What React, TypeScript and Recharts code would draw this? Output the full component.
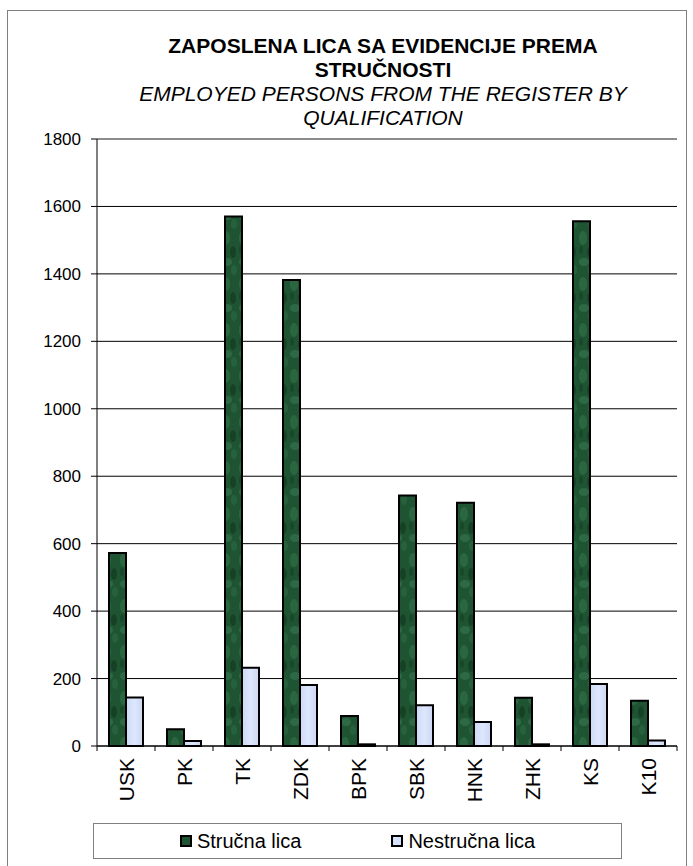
import { BarChart, Bar, XAxis, YAxis, CartesianGrid, ReferenceLine } from "recharts";

const categories = ["USK", "PK", "TK", "ZDK", "BPK", "SBK", "HNK", "ZHK", "KS", "K10"];
const strucna = [572, 50, 1570, 1382, 89, 743, 721, 143, 1556, 134];
const nestrucna = [144, 15, 232, 181, 5, 121, 71, 5, 184, 16];
const yTicks = [0, 200, 400, 600, 800, 1000, 1200, 1400, 1600, 1800];

const data = categories.map((name, i) => ({ name, strucna: strucna[i], nestrucna: nestrucna[i] }));

const FONT = '"Liberation Sans", Arial, sans-serif';
const W = 693;
const H = 866;
const X_H = 30;
const M = { top: 139, right: 16, bottom: 120 - X_H, left: 0 };
const Y_W = 97;
const PLOT_W = W - M.left - M.right - Y_W;
const HALF_BAND = PLOT_W / categories.length / 2;

const XTick = ({ x, y, payload, index }: any) => (
  <g>
    {index === 0 && <line x1={x - HALF_BAND} x2={x - HALF_BAND} y1={y - 8} y2={y - 3} stroke="#000" />}
    <line x1={x + HALF_BAND} x2={x + HALF_BAND} y1={y - 8} y2={y - 3} stroke="#000" />
    <text
      x={x}
      y={y + 4}
      transform={`rotate(-90, ${x}, ${y + 4})`}
      textAnchor="end"
      dy="0.36em"
      fontSize={21}
      fill="#000"
      fontFamily={FONT}
    >
      {payload.value}
    </text>
  </g>
);

const Swatch = ({ fill }: { fill: string }) => (
  <span style={{ display: "inline-block", width: 8, height: 8, border: "2px solid #000", background: fill, marginRight: 5 }} />
);

export default function App() {
  return (
    <div style={{ position: "absolute", left: 0, top: 0, width: W, height: H, overflow: "hidden", fontFamily: FONT, background: "#fff" }}>
      <div style={{ position: "absolute", left: 7, top: 10, width: 678, height: 900, border: "1px solid #808080" }} />
      <div style={{ position: "absolute", left: 83, top: 34, width: 600, textAlign: "center", fontSize: 21, lineHeight: "24px", color: "#000" }}>
        <div style={{ fontWeight: "bold" }}>ZAPOSLENA LICA SA EVIDENCIJE PREMA</div>
        <div style={{ fontWeight: "bold" }}>STRUČNOSTI</div>
        <div style={{ fontStyle: "italic" }}>EMPLOYED PERSONS FROM THE REGISTER BY</div>
        <div style={{ fontStyle: "italic" }}>QUALIFICATION</div>
      </div>
      <div style={{ position: "absolute", left: 0, top: 0 }}>
        <BarChart width={W} height={H} data={data} margin={M} barSize={17} barGap={0}>
          <defs>
            <pattern id="marble" patternUnits="userSpaceOnUse" width="17" height="46">
              <rect width="17" height="46" fill="#1f5432" />
              <ellipse cx="5" cy="8" rx="4" ry="7" fill="#2f7048" opacity="0.7" />
              <ellipse cx="12" cy="22" rx="3" ry="6" fill="#133d22" opacity="0.8" />
              <ellipse cx="6" cy="32" rx="5" ry="4" fill="#3a7d55" opacity="0.5" />
              <ellipse cx="13" cy="40" rx="3" ry="5" fill="#2a6640" opacity="0.7" />
              <ellipse cx="3" cy="20" rx="2" ry="4" fill="#164527" opacity="0.8" />
            </pattern>
            <linearGradient id="pale" x1="0" y1="0" x2="1" y2="0">
              <stop offset="0" stopColor="#cdd8f6" />
              <stop offset="0.5" stopColor="#dde7fc" />
              <stop offset="1" stopColor="#cdd6f4" />
            </linearGradient>
          </defs>
          <CartesianGrid vertical={false} stroke="#000" />
          <XAxis
            dataKey="name"
            height={X_H}
            axisLine={{ stroke: "#000" }}
            tickLine={false}
            interval={0}
            tick={<XTick />}
          />
          <YAxis
            width={Y_W}
            domain={[0, 1800]}
            ticks={yTicks}
            interval={0}
            axisLine={{ stroke: "#000" }}
            tickLine={{ stroke: "#000" }}
            tickSize={6}
            tickMargin={10}
            tick={{ fontSize: 17, fill: "#000", fontFamily: FONT }}
          />
          <YAxis
            yAxisId="frame"
            orientation="right"
            width={0}
            domain={[0, 1800]}
            tick={false}
            tickLine={false}
            axisLine={{ stroke: "#8c8c8c", strokeWidth: 2 }}
          />
          <ReferenceLine y={1800} stroke="#8c8c8c" strokeWidth={2} />
          <Bar dataKey="strucna" name="Stručna lica" fill="url(#marble)" stroke="#000" strokeWidth={2} isAnimationActive={false} />
          <Bar dataKey="nestrucna" name="Nestručna lica" fill="url(#pale)" stroke="#000" strokeWidth={2} isAnimationActive={false} />
        </BarChart>
      </div>
      <div
        style={{
          position: "absolute",
          left: 93,
          top: 823,
          width: 527,
          height: 34,
          border: "1px solid #808080",
          display: "flex",
          alignItems: "center",
          justifyContent: "center",
          fontSize: 20,
          color: "#000",
        }}
      >
        <span style={{ display: "flex", alignItems: "center", marginRight: 90 }}>
          <Swatch fill="#1f5432" />
          Stručna lica
        </span>
        <span style={{ display: "flex", alignItems: "center" }}>
          <Swatch fill="#d6e1fb" />
          Nestručna lica
        </span>
      </div>
    </div>
  );
}
